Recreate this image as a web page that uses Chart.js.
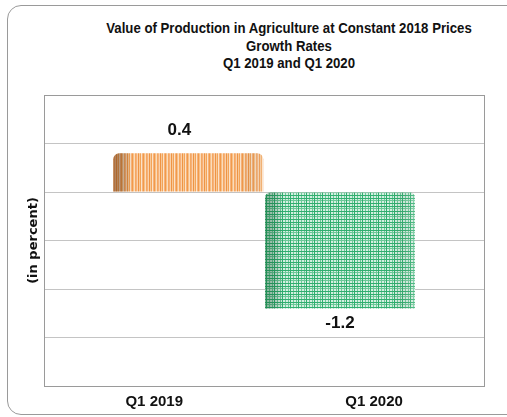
<!DOCTYPE html>
<html>
<head>
<meta charset="utf-8">
<script src="https://cdn.jsdelivr.net/npm/chart.js@4/dist/chart.umd.min.js"></script>
<style>
    html, body { margin: 0; padding: 0; background: #fff; overflow: hidden; }
    #wrap { position: relative; width: 507px; height: 417px; }
    #frame {
        position: absolute; left: 7px; top: 5px; width: 560px; height: 410px;
        border: 1px solid #9a9a9a; border-radius: 14px; box-sizing: border-box;
    }
    #title {
        position: absolute; left: 0; top: 19px; width: 578px; text-align: center;
        font-family: "Liberation Sans", Arial, sans-serif;
        font-weight: bold; font-size: 15px; line-height: 17.5px; color: #111;
        transform: scaleX(0.88); transform-origin: 289px 0;
    }
    canvas { position: absolute; left: 0; top: 0; }
</style>
</head>
<body>
<div id="wrap">
    <div id="frame"></div>
    <div id="title">Value of Production in Agriculture at Constant 2018 Prices<br>Growth Rates<br>Q1 2019 and Q1 2020</div>
    <canvas id="chart" width="507" height="417"></canvas>
</div>
<script>
// Chart data
const categories = ['Q1 2019', 'Q1 2020'];
const growthRates = [0.4, -1.2];
const yTicks = { min: -2, max: 1, step: 0.5 };

const labelFont = '"Liberation Sans", Arial, sans-serif';

// Striped fills for the bars
function makeOrangePattern(ctx) {
    const c = document.createElement('canvas');
    c.width = 11; c.height = 4;
    const p = c.getContext('2d');
    const cols = ['#f29a4a', '#f7bf88', '#fbdcbc', '#f4a860', '#f6b07a', '#fad2aa',
                  '#ee9444', '#f8c898', '#f3a458', '#fbe2c8', '#f5b27a'];
    cols.forEach((col, x) => { p.fillStyle = col; p.fillRect(x, 0, 1, 4); });
    return ctx.createPattern(c, 'repeat');
}

function makeGreenPattern(ctx) {
    const c = document.createElement('canvas');
    c.width = 8; c.height = 8;
    const p = c.getContext('2d');
    p.fillStyle = '#d3efe0';
    p.fillRect(0, 0, 8, 8);
    p.fillStyle = '#6cc898';
    p.fillRect(0, 0, 8, 1);
    p.fillRect(0, 0, 1, 8);
    p.fillRect(5, 0, 1, 8);
    p.fillStyle = '#2fae6e';
    p.fillRect(0, 3, 8, 1);
    p.fillRect(0, 6, 8, 1);
    p.fillRect(2, 0, 1, 8);
    return ctx.createPattern(c, 'repeat');
}

// Shade the bars so they look rounded
const barShade = {
    id: 'barShade',
    afterDatasetsDraw(chart) {
        const ctx = chart.ctx;
        chart.data.datasets.forEach((ds, di) => {
            const meta = chart.getDatasetMeta(di);
            meta.data.forEach((bar, i) => {
                if (ds.data[i] === null) return;
                const left = bar.x - bar.width / 2;
                const top = Math.min(bar.y, bar.base);
                const h = Math.abs(bar.base - bar.y);
                const g = ctx.createLinearGradient(left, 0, left + bar.width, 0);
                g.addColorStop(0, ds.shadeColor);
                g.addColorStop(0.12, 'rgba(0,0,0,0)');
                g.addColorStop(0.85, 'rgba(0,0,0,0)');
                g.addColorStop(1, 'rgba(255,255,255,0.2)');
                ctx.save();
                ctx.fillStyle = g;
                ctx.beginPath();
                ctx.roundRect(left, top, bar.width, h, [6, 6, 0, 0]);
                ctx.fill();
                ctx.restore();
            });
        });
    }
};

// Value labels above / below the bars
const valueLabels = {
    id: 'valueLabels',
    afterDatasetsDraw(chart) {
        const ctx = chart.ctx;
        ctx.save();
        ctx.font = 'bold 17px ' + labelFont;
        ctx.fillStyle = '#111';
        ctx.textAlign = 'center';
        chart.data.datasets.forEach((ds, di) => {
            const meta = chart.getDatasetMeta(di);
            meta.data.forEach((bar, i) => {
                const v = ds.data[i];
                if (v === null) return;
                if (v >= 0) {
                    ctx.textBaseline = 'bottom';
                    ctx.fillText(v.toFixed(1), bar.x - 9, bar.y - 14);
                } else {
                    ctx.textBaseline = 'top';
                    ctx.fillText(v.toFixed(1), bar.x, bar.y + 6);
                }
            });
        });
        ctx.restore();
    }
};

// Box around the plot area
const plotFrame = {
    id: 'plotFrame',
    afterDraw(chart) {
        const a = chart.chartArea;
        const ctx = chart.ctx;
        ctx.save();
        ctx.strokeStyle = '#9a9a9a';
        ctx.lineWidth = 1;
        ctx.strokeRect(Math.round(a.left) + 0.5, Math.round(a.top) + 0.5,
            Math.round(a.right - a.left), Math.round(a.bottom - a.top));
        ctx.restore();
    }
};

const ctx = document.getElementById('chart').getContext('2d');

new Chart(ctx, {
    type: 'bar',
    data: {
        labels: categories,
        datasets: [{
            label: categories[1],
            data: categories.map((c, i) => i === 1 ? growthRates[i] : null),
            backgroundColor: makeGreenPattern(ctx),
            shadeColor: 'rgba(20,110,60,0.45)',
            borderWidth: 0,
            borderSkipped: false,
            borderRadius: { topLeft: 5, topRight: 5, bottomLeft: 0, bottomRight: 0 }
        }, {
            label: categories[0],
            data: categories.map((c, i) => i === 0 ? growthRates[i] : null),
            backgroundColor: makeOrangePattern(ctx),
            shadeColor: 'rgba(130,70,25,0.6)',
            borderWidth: 0,
            borderSkipped: false,
            borderRadius: { topLeft: 6, topRight: 6, bottomLeft: 0, bottomRight: 0 }
        }]
    },
    options: {
        responsive: false,
        animation: false,
        categoryPercentage: 0.62,
        barPercentage: 2.2,
        layout: { padding: { top: 95, right: 23, left: 26, bottom: 0 } },
        plugins: {
            legend: { display: false },
            tooltip: { enabled: false },
            title: { display: false }
        },
        scales: {
            x: {
                grid: { display: false, drawTicks: false },
                border: { display: false },
                ticks: {
                    color: '#111',
                    padding: 8,
                    font: { family: labelFont, size: 15, weight: 'bold', lineHeight: 1 }
                }
            },
            y: {
                min: yTicks.min,
                max: yTicks.max,
                grid: { color: '#c4c4c4', drawTicks: false },
                border: { display: false },
                ticks: { display: false, stepSize: yTicks.step },
                title: {
                    display: true,
                    text: '(in percent)',
                    color: '#111',
                    padding: { top: 0, bottom: 4 },
                    font: { family: '"DejaVu Sans", sans-serif', size: 13, weight: 'bold', lineHeight: 1.1 }
                }
            }
        }
    },
    plugins: [barShade, valueLabels, plotFrame]
});
</script>
</body>
</html>
